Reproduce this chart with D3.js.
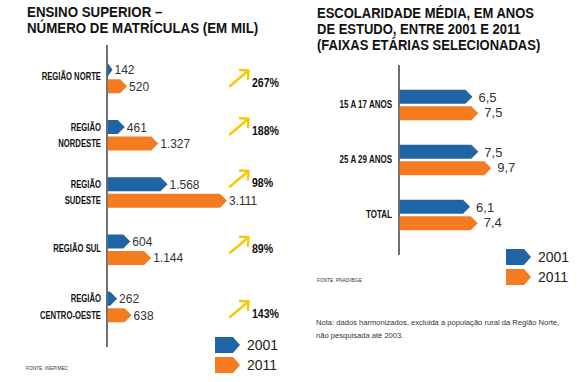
<html>
<head>
    <meta charset="utf-8">
    <script src="https://d3js.org/d3.v7.min.js"></script>
    <style>
        body { margin: 0; background: #fff; }
        .cond { font-family: "Liberation Sans", Arial, sans-serif; }
        .reg { font-family: "Liberation Sans", Arial, sans-serif; }
    </style>
</head>
<body>
<svg width="582" height="382"></svg>
<script>
    // ---- left chart data ----
    const regions = ["Norte", "Nordeste", "Sudeste", "Sul", "Centro-Oeste"];
    const regionLabels = [["REGIÃO NORTE"], ["REGIÃO", "NORDESTE"], ["REGIÃO", "SUDESTE"], ["REGIÃO SUL"], ["REGIÃO", "CENTRO-OESTE"]];
    const matric2001 = [142, 461, 1568, 604, 262];
    const matric2011 = [520, 1327, 3111, 1144, 638];
    const matricText2001 = ["142", "461", "1.568", "604", "262"];
    const matricText2011 = ["520", "1.327", "3.111", "1.144", "638"];
    const growth = ["267%", "188%", "98%", "89%", "143%"];
    const growthShift = [4, -5, -10, -1, 6];

    // ---- right chart data ----
    const ageGroups = ["15 A 17 ANOS", "25 A 29 ANOS", "TOTAL"];
    const school2001 = [6.5, 7.5, 6.1];
    const school2011 = [7.5, 9.7, 7.4];
    const schoolText2001 = ["6,5", "7,5", "6,1"];
    const schoolText2011 = ["7,5", "9,7", "7,4"];

    const years = ["2001", "2011"];
    const colors = { "2001": "#1f64a5", "2011": "#f47b20" };

    const svg = d3.select("svg");

    // pentagon shaped bar: flat start, pointed end
    function arrowBar(x0, x1, yc, h) {
        const tip = Math.min(7, x1 - x0);
        return `M${x0},${yc - h / 2}L${x1 - tip},${yc - h / 2}L${x1},${yc}L${x1 - tip},${yc + h / 2}L${x0},${yc + h / 2}Z`;
    }

    // bold condensed text (no narrow font available, so squeeze it)
    function condText(g, x, y, str, size, sx, anchor) {
        return g.append("text").attr("class", "cond")
            .attr("transform", `translate(${x},${y}) scale(${sx},1)`)
            .attr("text-anchor", anchor || "start")
            .attr("font-size", size).attr("font-weight", "bold").attr("fill", "#111")
            .text(str);
    }

    function title(x, y0, lines, size, sx) {
        const g = svg.append("g");
        lines.forEach((ln, i) => condText(g, x, y0 + i * (size + 0.3), ln, size, sx));
    }

    function legend(x, y, gap) {
        const g = svg.append("g");
        years.forEach((yr, i) => {
            g.append("path")
             .attr("d", arrowBar(x, x + 25, y + i * gap, 16))
             .attr("fill", colors[yr]);
            g.append("text").attr("class", "reg")
             .attr("x", x + 32).attr("y", y + i * gap + 5)
             .attr("font-size", 14).attr("fill", "#222").text(yr);
        });
    }

    // ================= LEFT =================
    title(27, 17, ["ENSINO SUPERIOR –", "NÚMERO DE MATRÍCULAS (EM MIL)"], 15.5, 0.86);

    const yLeft = d3.scalePoint().domain(regions).range([78, 307]);
    const sub = d3.scaleBand().domain(years).range([-16, 16]).paddingInner(0.06);
    const xLeft = d3.scaleLinear().domain([0, 3111]).range([107, 227]);

    const left = svg.append("g");
    left.append("line").attr("x1", 107).attr("x2", 107).attr("y1", 45).attr("y2", 347)
        .attr("stroke", "#111").attr("stroke-width", 1.2);

    regions.forEach((r, i) => {
        const c = yLeft(r);
        const vals = [matric2001[i], matric2011[i]];
        const txt = [matricText2001[i], matricText2011[i]];
        years.forEach((yr, j) => {
            const yc = c + sub(yr) + sub.bandwidth() / 2;
            left.append("path")
                .attr("d", arrowBar(xLeft(0) + 0.6, xLeft(vals[j]), yc, 14))
                .attr("fill", colors[yr]);
            left.append("text").attr("class", "reg")
                .attr("x", xLeft(vals[j]) + 2).attr("y", yc + 4.5)
                .attr("font-size", 12).attr("fill", "#333").text(txt[j]);
        });
        const lines = regionLabels[i];
        lines.forEach((ln, k) => {
            const yy = lines.length === 1 ? c + 2 : c + sub(years[k]) + sub.bandwidth() / 2 + 3.5;
            condText(left, 101, yy, ln, 10, 0.77, "end");
        });
        // growth arrow + percent
        const py = c + growthShift[i];
        left.append("line")
            .attr("x1", 230).attr("y1", py + 4).attr("x2", 248).attr("y2", py - 11)
            .attr("stroke", "#f5c800").attr("stroke-width", 2.4).attr("stroke-linecap", "round");
        left.append("path")
            .attr("d", `M${240},${py - 12}L${248.5},${py - 11.5}L${248},${py - 3}`)
            .attr("fill", "none").attr("stroke", "#f5c800").attr("stroke-width", 2.4)
            .attr("stroke-linecap", "round").attr("stroke-linejoin", "round");
        condText(left, 252, py + 4.5, growth[i], 12, 0.88);
    });

    legend(215, 345, 20);
    condText(svg, 26, 370, "FONTE: INEP/MEC", 6, 0.8).attr("font-weight", "normal").attr("fill", "#333");

    // ================= RIGHT =================
    title(317, 18, ["ESCOLARIDADE MÉDIA, EM ANOS", "DE ESTUDO, ENTRE 2001 E 2011", "(FAIXAS ETÁRIAS SELECIONADAS)"], 15.5, 0.84);

    const yRight = d3.scalePoint().domain(ageGroups).range([105, 215]);
    const xRight = d3.scaleLinear().domain([-6, 10]).range([399, 493]);

    const right = svg.append("g");
    right.append("line").attr("x1", 399).attr("x2", 399).attr("y1", 65).attr("y2", 255)
         .attr("stroke", "#111").attr("stroke-width", 1.2);

    ageGroups.forEach((a, i) => {
        const c = yRight(a);
        const vals = [school2001[i], school2011[i]];
        const txt = [schoolText2001[i], schoolText2011[i]];
        years.forEach((yr, j) => {
            const yc = c + sub(yr) + sub.bandwidth() / 2;
            right.append("path")
                 .attr("d", arrowBar(xRight(-6) + 0.6, xRight(vals[j]), yc, 14))
                 .attr("fill", colors[yr]);
            right.append("text").attr("class", "reg")
                 .attr("x", xRight(vals[j]) + 6).attr("y", yc + 1 - j * 2 + 4.5)
                 .attr("font-size", 13).attr("fill", "#333").text(txt[j]);
        });
        condText(right, 392, c + 3, a, 10, 0.8, "end");
    });

    legend(506, 257, 20);
    condText(svg, 317, 282, "FONTE: PNAD/IBGE", 6, 0.8).attr("font-weight", "normal").attr("fill", "#333");

    svg.append("g").selectAll("text")
       .data(["Nota: dados harmonizados, excluida a população rural da Região Norte,", "não pesquisada até 2003."])
       .enter().append("text").attr("class", "reg")
       .attr("x", 316).attr("y", (d, i) => 325 + i * 13)
       .attr("font-size", 7.6).attr("fill", "#333").text(d => d);
</script>
</body>
</html>
